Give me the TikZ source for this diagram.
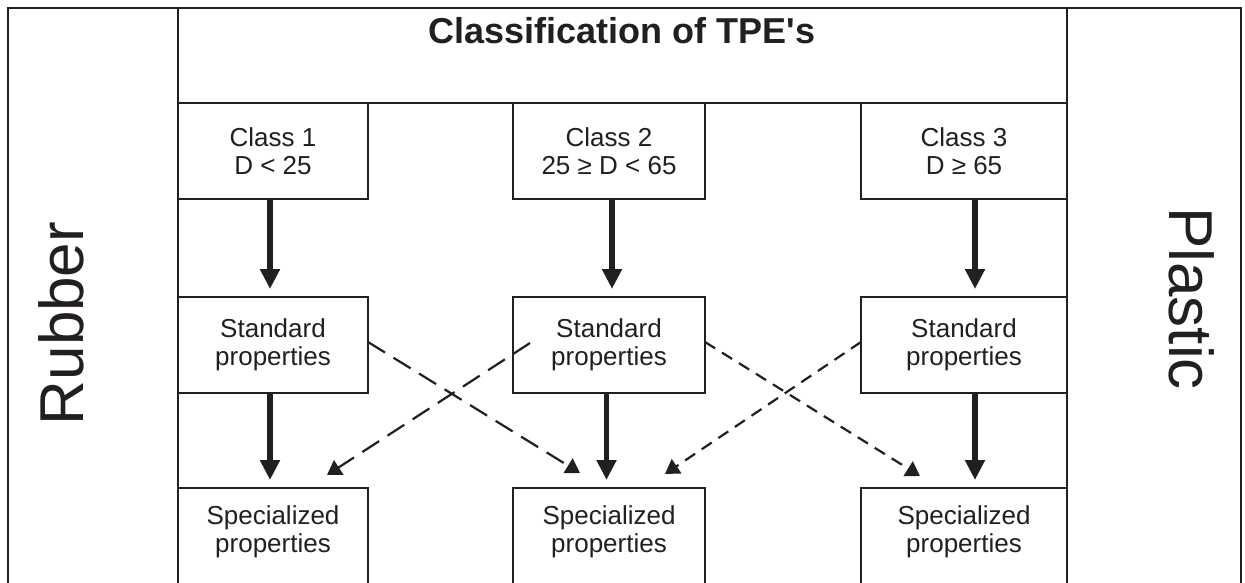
\documentclass[tikz,border=0pt]{standalone}
\usepackage{fontspec}
\setmainfont{Liberation Sans}
\usetikzlibrary{arrows.meta}
\definecolor{ink}{RGB}{35,31,32}
\tikzset{
  frame/.style={draw=ink, line width=2.6pt},
  box/.style={draw=ink, line width=2.6pt, inner sep=0pt, outer sep=0pt, align=center,
    text=ink, font=\fontsize{26}{28.5}\selectfont},
  txt/.style={inner sep=0pt, outer sep=0pt, align=center, text=ink,
    font=\fontsize{26}{28.5}\selectfont},
  solidarrow/.style={draw=ink, line width=5.5pt, -{Triangle[width=19pt,length=20pt]}, shorten >=8pt},
  dashlong/.style={draw=ink, line width=2.2pt, dash pattern=on 20pt off 10pt,
    -{Triangle[width=17pt,length=14pt]}},
  dashshort/.style={draw=ink, line width=2.2pt, dash pattern=on 12pt off 8pt,
    -{Triangle[width=17pt,length=14pt]}},
}
\begin{document}
\begin{tikzpicture}[x=1pt,y=-1pt]
\clip (0,0) rectangle (1245,582);
\fill[white] (0,0) rectangle (1245,582);
% outer frame and columns
\draw[frame] (8,600) -- (8,8) -- (1241,8) -- (1241,600);
\draw[frame] (178,8) -- (178,600);
\draw[frame] (1067,8) -- (1067,600);
\draw[frame] (178,103) -- (1067,103);
% title
\node[inner sep=0pt, anchor=base, text=ink, font=\fontsize{36}{40}\selectfont\bfseries] (title) at (622,43) {Classification of TPE\textquotesingle s};
% side labels
\node[inner sep=0pt, anchor=base, rotate=90, text=ink, font=\fontsize{62}{66}\selectfont] (rubber) at (83,323.5) {Rubber};
\node[inner sep=0pt, anchor=base, rotate=-90, text=ink, font=\fontsize{62}{66}\selectfont] (plastic) at (1169,298.5) {Plastic};
% class boxes
\node[box, minimum width=190pt, minimum height=96pt] (c1) at (273,151) {Class 1\\D < 25};
\node[box, minimum width=192pt, minimum height=96pt] (c2) at (609,151) {Class 2\\25 ≥ D < 65};
\node[box, minimum width=206pt, minimum height=96pt] (c3) at (964,151) {Class 3\\D ≥ 65};
% standard boxes
\node[box, minimum width=190pt, minimum height=96pt] (s1) at (273,345) {Standard\\properties};
\node[box, minimum width=192pt, minimum height=96pt] (s2) at (609,345) {Standard\\properties};
\node[box, minimum width=206pt, minimum height=96pt] (s3) at (964,345) {Standard\\properties};
% specialized boxes (open at bottom, clipped)
\node[box, minimum width=190pt, minimum height=152pt] (sp1) at (273,564) {};
\node[box, minimum width=192pt, minimum height=152pt] (sp2) at (609,564) {};
\node[box, minimum width=206pt, minimum height=152pt] (sp3) at (964,564) {};
\node[txt] (sp1t) at (273,532) {Specialized\\properties};
\node[txt] (sp2t) at (609,532) {Specialized\\properties};
\node[txt] (sp3t) at (964,532) {Specialized\\properties};
% solid arrows
\draw[solidarrow] ([xshift=-3pt]c1.south) -- ([xshift=-3pt]s1.north);
\draw[solidarrow] ([xshift=3pt]c2.south) -- ([xshift=3pt]s2.north);
\draw[solidarrow] ([xshift=11pt]c3.south) -- ([xshift=11pt]s3.north);
\draw[solidarrow] ([xshift=-3pt]s1.south) -- ([xshift=-3pt]sp1.north);
\draw[solidarrow] ([xshift=-2.5pt]s2.south) -- ([xshift=-2.5pt]sp2.north);
\draw[solidarrow] ([xshift=11pt]s3.south) -- ([xshift=11pt]sp3.north);
% dashed arrows
\draw[dashlong] ([yshift=3pt]s1.east) -- ([xshift=-29pt,yshift=15pt]sp2.north);
\draw[dashlong] ([xshift=17pt,yshift=2pt]s2.west) -- ([xshift=54pt,yshift=13pt]sp1.north);
\draw[dashshort] ([yshift=3pt]s2.east) -- ([xshift=-44pt,yshift=12pt]sp3.north);
\draw[dashshort] ([yshift=3pt]s3.west) -- ([xshift=56pt,yshift=14pt]sp2.north);
\end{tikzpicture}
\end{document}
